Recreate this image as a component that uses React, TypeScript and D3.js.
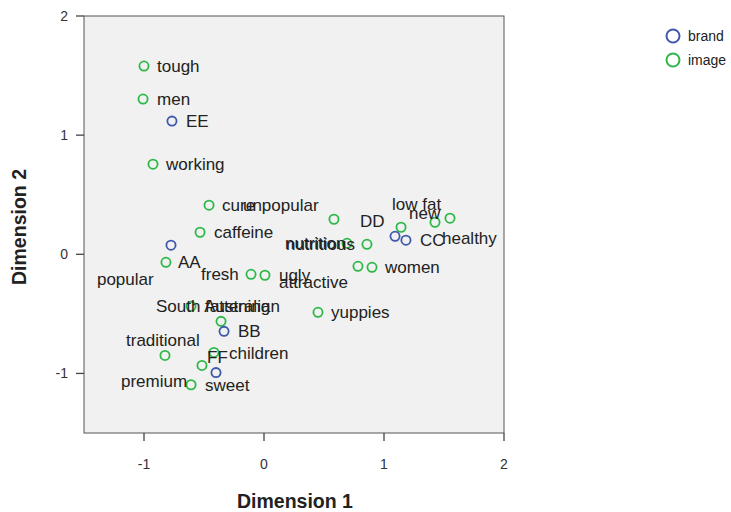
import React from "react";
import * as d3 from "d3";

// ---- data ----
const brandNames = ["AA", "BB", "CC", "DD", "EE", "FF"];
const brandDim1 = [-0.775, -0.333, 1.183, 1.092, -0.767, -0.4];
const brandDim2 = [0.076, -0.647, 0.118, 0.151, 1.118, -0.993];

const imageNames = [
  "tough", "men", "working", "cure", "unpopular", "caffeine", "popular",
  "fresh", "ugly", "attractive", "women", "low fat", "new", "healthy",
  "nutrition", "nutritious", "yuppies", "South Australian", "fattening",
  "traditional", "children", "premium", "sweet",
];
const imageDim1 = [
  -1.0, -1.008, -0.925, -0.458, 0.583, -0.533, -0.817,
  -0.108, 0.008, 0.783, 0.9, 1.142, 1.425, 1.55,
  0.692, 0.858, 0.45, -0.608, -0.358,
  -0.825, -0.417, -0.517, -0.608,
];
const imageDim2 = [
  1.58, 1.303, 0.756, 0.412, 0.294, 0.185, -0.067,
  -0.168, -0.176, -0.101, -0.109, 0.227, 0.269, 0.303,
  0.092, 0.084, -0.487, -0.437, -0.563,
  -0.849, -0.824, -0.933, -1.095,
];

const xTicks = [-1, 0, 1, 2];
const yTicks = [-1, 0, 1, 2];
const legendNames = ["brand", "image"];

// ---- label placement (pixel offsets from point to label start / center) ----
const labelPlacement: Record<string, [number, number]> = {
  AA: [7, 17], BB: [14, 0], CC: [14, 0], DD: [-35, -15], EE: [14, 0], FF: [-9, -16],
  tough: [13, 0], men: [14, 0], working: [13, 0], cure: [13, 0],
  unpopular: [-91, -14], caffeine: [14, 0], popular: [-69, 17],
  fresh: [-50, 0], ugly: [14, 0], attractive: [-79, 16], women: [13, 0],
  "low fat": [-9, -23], new: [-26, -9], healthy: [-8, 20],
  nutrition: [-62, 0], nutritious: [-81, 0], yuppies: [13, 0],
  "South Australian": [-35, 0], fattening: [-16, -15],
  traditional: [-39, -15], children: [15, 1], premium: [-81, 16], sweet: [14, 0],
};

const W = 731;
const H = 512;
const left = 84, right = 504, top = 16, bottom = 433;
const BLUE = "#3e58ac";
const GREEN = "#2eb848";
const FONT = "'Liberation Sans', Arial, sans-serif";

export default function App() {
  const x = d3.scaleLinear().domain([-1.5, 2]).range([left, right]);
  const y = d3.scaleLinear().domain([-1.5, 2]).range([bottom, top]);

  const brands = brandNames.map((n, i) => ({ name: n, d1: brandDim1[i], d2: brandDim2[i] }));
  const images = imageNames.map((n, i) => ({ name: n, d1: imageDim1[i], d2: imageDim2[i] }));
  const groups = [
    { pts: images, color: GREEN },
    { pts: brands, color: BLUE },
  ];

  return (
    <svg
      width={W}
      height={H}
      style={{ position: "absolute", left: 0, top: 0, background: "#fff" }}
      fontFamily={FONT}
    >
      <rect x={left} y={top} width={right - left} height={bottom - top} fill="#f0f1f0" stroke="#555" strokeWidth={1} />

      {xTicks.map((t) => (
        <g key={"xt" + t}>
          <line x1={x(t)} x2={x(t)} y1={bottom} y2={bottom + 8} stroke="#444" strokeWidth={1.3} />
          <text x={x(t)} y={464} dy="0.35em" textAnchor="middle" fontSize={14} fill="#333">
            {t}
          </text>
        </g>
      ))}
      {yTicks.map((t) => (
        <g key={"yt" + t}>
          <line x1={left - 8} x2={left} y1={y(t)} y2={y(t)} stroke="#444" strokeWidth={1.3} />
          <text x={68} y={y(t)} dy="0.35em" textAnchor="end" fontSize={14} fill="#333">
            {t}
          </text>
        </g>
      ))}

      <text x={295} y={501} dy="0.35em" textAnchor="middle" fontSize={19.5} fontWeight="bold" fill="#222">
        Dimension 1
      </text>
      <text
        transform={`translate(19,${227}) rotate(-90)`}
        dy="0.35em"
        textAnchor="middle"
        fontSize={19.5}
        fontWeight="bold"
        fill="#222"
      >
        Dimension 2
      </text>

      {groups.map((g, gi) => (
        <g key={"g" + gi}>
          {g.pts.map((p) => (
            <circle key={p.name} cx={x(p.d1)} cy={y(p.d2)} r={4.6} fill="none" stroke={g.color} strokeWidth={1.8} />
          ))}
        </g>
      ))}
      {groups.map((g, gi) => (
        <g key={"l" + gi}>
          {g.pts.map((p) => {
            const off = labelPlacement[p.name] || [13, 0];
            return (
              <text key={p.name} x={x(p.d1) + off[0]} y={y(p.d2) + off[1]} dy="0.35em" fontSize={17} fill="#222">
                {p.name}
              </text>
            );
          })}
        </g>
      ))}

      {legendNames.map((n, i) => (
        <g key={n}>
          <circle cx={673} cy={36 + i * 24} r={6.5} fill="none" stroke={i === 0 ? BLUE : GREEN} strokeWidth={2} />
          <text x={688} y={36 + i * 24} dy="0.35em" fontSize={14} fill="#222">
            {n}
          </text>
        </g>
      ))}
    </svg>
  );
}
